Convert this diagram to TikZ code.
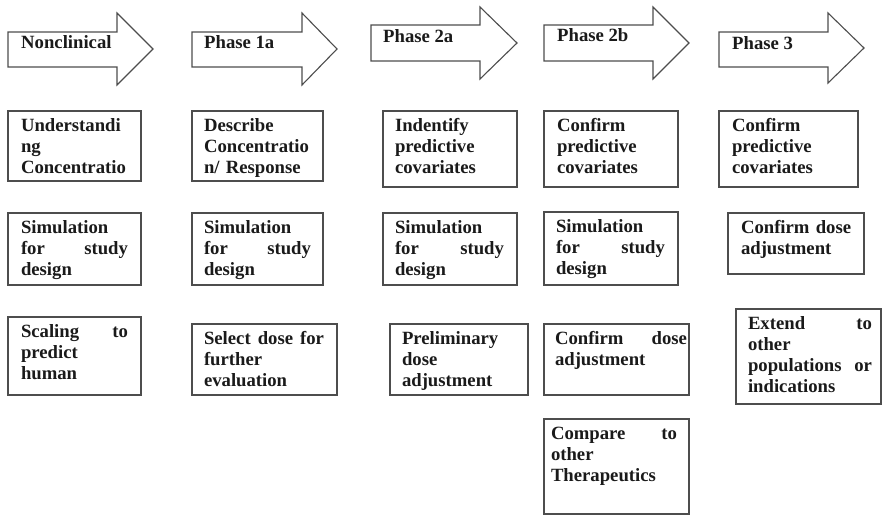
\documentclass[tikz,border=0pt]{standalone}
\usepackage{fontspec}
\setmainfont{Liberation Serif}
\usetikzlibrary{calc}
\setlength{\parindent}{0pt}
\definecolor{edge}{HTML}{4D4D4D}
\definecolor{ink}{HTML}{1A1A1A}
\newcommand\jl[3]{\leavevmode\hbox to #1pt{#2\hfill #3}}
\begin{document}
\begin{tikzpicture}[x=1pt,y=-1pt,
  box/.style={draw=edge, line width=1.2pt, inner sep=0pt, outer sep=0pt, anchor=north west},
  txt/.style={inner sep=0pt, outer sep=0pt, anchor=north west, align=left, text=ink, font=\fontsize{18.7}{21}\selectfont\bfseries},
  phase/.style={draw=edge, line width=1.1pt, fill=white},
  plabel/.style={inner sep=0pt, anchor=base west, text=ink, font=\fontsize{18.7}{21}\selectfont\bfseries}]
\useasboundingbox (0,0) rectangle (882,516);

% phase arrows
\draw[phase] (8,32) -- (117,32) -- (117,13) -- (153,49) -- (117,85) -- (117,67) -- (8,67) -- cycle;
\node[plabel] (p1) at (21,49) {Nonclinical};
\draw[phase] (192,32) -- (302,32) -- (302,13) -- (337,49) -- (302,85) -- (302,67) -- (192,67) -- cycle;
\node[plabel] (p2) at (204,49) {Phase 1a};
\draw[phase] (371,25) -- (480,25) -- (480,7) -- (517,43) -- (480,79) -- (480,61) -- (371,61) -- cycle;
\node[plabel] (p3) at (383,43) {Phase 2a};
\draw[phase] (544,25) -- (653,25) -- (653,7) -- (689,43) -- (653,79) -- (653,61) -- (544,61) -- cycle;
\node[plabel] (p4) at (557,42) {Phase 2b};
\draw[phase] (719,32) -- (828,32) -- (828,13) -- (864,48) -- (828,83) -- (828,67) -- (719,67) -- cycle;
\node[plabel] (p5) at (732,50) {Phase 3};

% row 1
\node[box, minimum width=133pt, minimum height=70pt] (b11) at (8,111) {};
\node[txt, text width=110pt] (t11) at ($(b11.north west)+(13,5.8)$) {\strut Understandi\\ng\\Concentratio};
\node[box, minimum width=131pt, minimum height=70pt] (b12) at (192,111) {};
\node[txt, text width=110pt] (t12) at ($(b12.north west)+(12,5.8)$) {\strut Describe\\Concentratio\\n/ Response};
\node[box, minimum width=134pt, minimum height=76pt] (b13) at (383,111) {};
\node[txt, text width=110pt] (t13) at ($(b13.north west)+(12,5.8)$) {\strut Indentify\\predictive\\covariates};
\node[box, minimum width=134pt, minimum height=76pt] (b14) at (544,111) {};
\node[txt, text width=110pt] (t14) at ($(b14.north west)+(13,5.8)$) {\strut Confirm\\predictive\\covariates};
\node[box, minimum width=139pt, minimum height=76pt] (b15) at (719,111) {};
\node[txt, text width=110pt] (t15) at ($(b15.north west)+(13,5.8)$) {\strut Confirm\\predictive\\covariates};

% row 2
\node[box, minimum width=133pt, minimum height=72pt] (b21) at (8,213) {};
\node[txt, text width=107pt] (t21) at ($(b21.north west)+(13,5.8)$) {\strut Simulation\\\jl{107}{for}{study}\\design};
\node[box, minimum width=131pt, minimum height=72pt] (b22) at (192,213) {};
\node[txt, text width=107pt] (t22) at ($(b22.north west)+(12,5.8)$) {\strut Simulation\\\jl{107}{for}{study}\\design};
\node[box, minimum width=134pt, minimum height=72pt] (b23) at (383,213) {};
\node[txt, text width=109pt] (t23) at ($(b23.north west)+(12,5.8)$) {\strut Simulation\\\jl{109}{for}{study}\\design};
\node[box, minimum width=134pt, minimum height=73pt] (b24) at (544,212) {};
\node[txt, text width=109pt] (t24) at ($(b24.north west)+(12,5.3)$) {\strut Simulation\\\jl{109}{for}{study}\\design};
\node[box, minimum width=136pt, minimum height=61pt] (b25) at (728,213) {};
\node[txt, text width=115pt] (t25) at ($(b25.north west)+(13,5.3)$) {\strut Confirm dose\\adjustment};

% row 3
\node[box, minimum width=133pt, minimum height=78pt] (b31) at (8,317) {};
\node[txt, text width=107pt] (t31) at ($(b31.north west)+(13,5.3)$) {\strut\jl{107}{Scaling}{to}\\predict\\human};
\node[box, minimum width=145pt, minimum height=71pt] (b32) at (192,324) {};
\node[txt, text width=120pt] (t32) at ($(b32.north west)+(12,5.8)$) {\strut\jl{120}{Select\hfill dose}{for}\\further\\evaluation};
\node[box, minimum width=138pt, minimum height=71pt] (b33) at (390,324) {};
\node[txt, text width=120pt] (t33) at ($(b33.north west)+(12,5.8)$) {\strut Preliminary\\dose\\adjustment};
\node[box, minimum width=145pt, minimum height=71pt] (b34) at (544,324) {};
\node[txt, text width=132pt] (t34) at ($(b34.north west)+(11,5.8)$) {\strut\jl{132}{Confirm}{dose}\\adjustment};
\node[box, minimum width=145pt, minimum height=95pt] (b35) at (736,309) {};
\node[txt, text width=124pt] (t35) at ($(b35.north west)+(12,5.8)$) {\strut\jl{124}{Extend}{to}\\other\\\jl{124}{populations}{or}\\indications};
\node[box, minimum width=145pt, minimum height=95pt] (b36) at (544,419) {};
\node[txt, text width=126pt] (t36) at ($(b36.north west)+(7,5.3)$) {\strut\jl{126}{Compare}{to}\\other\\Therapeutics};
\end{tikzpicture}
\end{document}
